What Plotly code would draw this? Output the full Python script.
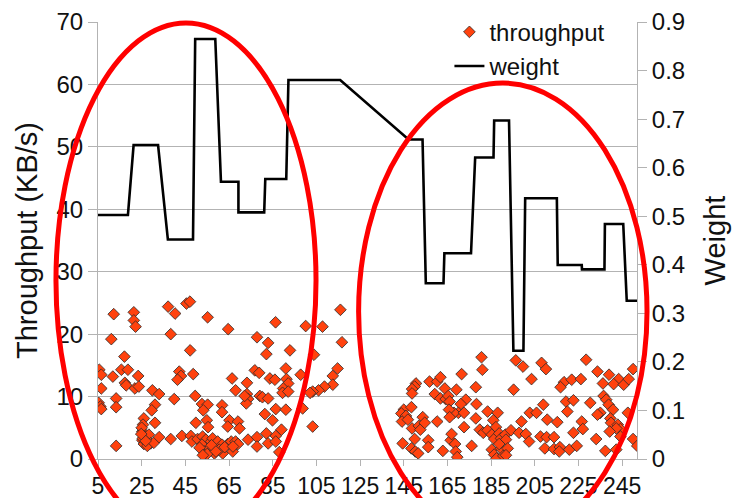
import plotly.graph_objects as go

# ---------------- data ----------------
thr_x = [
    12.2, 21.4, 21.4, 22.2, 37.1, 40.3, 45.5, 47.1, 55.2, 64.6, 11.1, 38.3, 47.2, 17.1, 5.6, 6.5, 11.8, 15.7, 18.7,
    23.4, 17.3, 17.9, 21.9, 23.7, 42.2, 43.0, 41.4, 48.6, 66.4, 6.5, 29.9, 33.0, 13.3, 39.9, 49.5, 5.3, 6.1, 6.5,
    13.3, 31.1, 29.6, 52.6, 55.2, 53.2, 61.8, 61.8, 26.0, 25.6, 31.1, 49.8, 54.8, 55.4, 65.2, 25.3, 26.5, 25.3,
    26.0, 28.3, 29.1, 27.6, 30.6, 33.0, 38.3, 43.4, 47.5, 48.0, 50.6, 52.9, 54.4, 52.6, 56.8, 57.5, 53.7, 58.3,
    56.0, 59.8, 61.8, 62.1, 64.4, 66.0, 66.7, 13.3, 64.4, 25.0, 25.5, 26.8, 24.8, 51.5, 55.0, 57.0, 60.5, 63.0,
    59.0, 53.0,
    86.3, 100.1, 107.8, 116.0, 77.8, 82.9, 92.9, 116.7, 82.1, 103.9, 91.0, 97.8, 114.7, 112.5, 112.5, 108.7,
    106.0, 103.3, 102.1, 76.8, 78.8, 73.2, 83.7, 86.0, 91.3, 92.1, 68.0, 89.8, 89.5, 92.1, 73.2, 73.7, 72.9,
    72.1, 79.1, 80.3, 82.9, 98.7, 86.4, 91.0, 81.4, 84.9, 69.1, 69.8, 103.3, 82.1, 86.4, 89.0, 73.7, 77.8, 68.0,
    69.1, 66.8, 82.9, 86.4, 77.8, 88.0,
    180.6, 181.0, 171.5, 150.6, 150.0, 148.8, 148.8, 156.8, 160.3, 161.8, 159.2, 163.8, 161.8, 164.2, 165.4,
    166.0, 169.1, 178.0, 195.3, 173.4, 171.1, 170.0, 168.0, 172.6, 165.7, 178.3, 145.0, 143.9, 148.5, 146.0,
    144.2, 146.9, 148.8, 151.9, 152.6, 153.7, 154.6, 160.3, 166.0, 178.0, 183.4, 188.0, 186.0, 187.2, 172.6,
    179.8, 181.4, 183.4, 185.3, 186.4, 188.7, 189.5, 191.5, 191.8, 194.1, 150.0, 148.5, 150.3, 151.6, 144.5,
    156.2, 156.2, 162.9, 166.5, 168.5, 168.8, 169.5, 166.9, 176.1, 185.3, 186.4, 187.5, 189.5, 190.6, 188.7,
    192.6, 191.8,
    228.5, 196.3, 199.6, 208.1, 210.1, 203.5, 233.7, 239.0, 236.2, 243.4, 241.1, 245.7, 248.0, 250.0, 218.4,
    216.8, 221.9, 226.1, 219.3, 222.7, 219.9, 230.4, 236.5, 237.7, 238.8, 240.8, 235.0, 233.7, 239.6, 208.9,
    202.7, 205.8, 198.9, 210.7, 215.3, 226.5, 227.0, 222.7, 239.9, 243.0, 244.2, 242.3, 239.3, 247.6, 197.8,
    200.9, 202.4, 207.6, 210.4, 213.8, 233.1, 244.2, 250.0, 251.9, 209.6, 213.8, 216.5, 216.2, 220.8, 224.2,
    237.3, 242.3,
]
thr_y = [
    23.2, 23.5, 22.2, 21.2, 24.4, 23.3, 24.9, 25.2, 22.7, 20.8, 19.2, 20.0, 17.4, 16.4, 14.3, 13.5, 13.2, 14.3, 14.3,
    13.3, 12.2, 11.8, 11.3, 11.6, 14.0, 13.3, 12.7, 13.6, 12.9, 11.3, 11.0, 10.4, 9.7, 9.6, 10.1, 9.0, 8.4, 8.0,
    8.3, 8.7, 7.8, 8.8, 8.7, 7.8, 8.6, 7.5, 6.5, 5.5, 5.8, 5.8, 6.2, 5.1, 6.2, 4.4, 3.6, 3.0,
    2.4, 3.9, 2.5, 2.1, 2.6, 3.5, 3.2, 3.7, 3.7, 2.8, 3.2, 3.6, 3.1, 2.3, 2.8, 3.3, 1.2, 0.9,
    1.7, 2.8, 2.3, 0.9, 2.4, 2.8, 1.2, 2.1, 5.2, 5.0, 3.3, 2.9, 4.0, 1.8, 0.8, 2.2, 1.5, 1.9,
    1.2, 0.6,
    21.9, 21.3, 21.2, 23.9, 19.5, 18.6, 17.4, 18.7, 16.8, 16.7, 14.5, 13.5, 14.5, 13.3, 11.9, 11.6,
    11.0, 10.8, 10.6, 14.2, 13.8, 12.2, 12.9, 12.7, 12.8, 12.1, 11.0, 11.3, 10.6, 10.8, 10.4, 9.6, 8.9,
    10.1, 10.1, 9.9, 9.7, 8.1, 8.0, 7.9, 7.2, 6.2, 6.0, 4.9, 5.2, 4.1, 3.7, 4.7, 3.1, 3.5, 2.8,
    2.4, 2.0, 2.5, 2.8, 2.0, 1.1,
    16.3, 14.3, 13.6, 12.1, 11.6, 11.2, 10.5, 12.4, 12.4, 13.1, 10.4, 11.3, 9.7, 9.6, 10.1,
    9.2, 11.1, 11.5, 11.1, 9.5, 8.8, 7.4, 7.4, 7.4, 7.9, 8.8, 7.9, 7.3, 8.3, 6.9,
    6.0, 6.3, 4.9, 5.3, 4.7, 6.7, 5.8, 6.0, 6.7, 6.5, 7.6, 7.4, 6.2, 5.1, 5.1,
    4.7, 4.2, 4.6, 3.9, 3.2, 4.1, 3.3, 3.9, 3.1, 4.6, 3.2, 1.7, 1.2, 0.9, 2.5,
    3.0, 1.9, 1.3, 3.0, 2.4, 1.2, 0.3, 4.0, 2.1, 1.5, 0.7, 0.1, 1.7, 0.5, 2.4,
    1.7, 0.6,
    15.9, 15.8, 14.8, 15.4, 14.4, 12.8, 14.0, 13.5, 12.1, 12.8, 12.0, 11.9, 12.8, 14.4, 12.3,
    11.5, 12.7, 12.8, 9.2, 9.4, 7.6, 9.0, 10.1, 9.5, 8.7, 7.9, 7.4, 7.1, 6.5, 8.7,
    7.4, 7.4, 6.0, 6.3, 5.9, 6.0, 4.8, 4.2, 5.8, 5.5, 4.8, 4.9, 4.4, 7.4, 4.2,
    4.0, 2.8, 3.6, 3.5, 3.5, 3.2, 3.6, 3.2, 2.1, 1.7, 1.6, 1.9, 1.2, 1.5, 2.1,
    1.3, 1.5,
]

weight_x = [5, 18.7, 21.3, 32.5, 37.0, 48.5, 49.5, 58.7, 61.3, 69.3, 69.3, 81.1, 81.6, 91.2, 92.2, 115.9,
            147.2, 153.6, 155.1, 163.2, 163.6, 175.8, 177.7, 186.1, 186.4, 193.2, 195.2, 199.8, 200.6, 215.1,
            215.5, 226.5, 226.6, 236.9, 237.1, 245.5, 247.1, 251.8]
weight_y = [0.5025, 0.5025, 0.6466, 0.6466, 0.452, 0.452, 0.865, 0.865, 0.571, 0.571, 0.508, 0.508, 0.5766,
            0.5766, 0.7805, 0.7805, 0.658, 0.658, 0.362, 0.362, 0.4236, 0.4236, 0.621, 0.621, 0.697, 0.697,
            0.223, 0.223, 0.537, 0.537, 0.3995, 0.3995, 0.3906, 0.3906, 0.484, 0.484, 0.326, 0.326]

x_ticks = [5, 25, 45, 65, 85, 105, 125, 145, 165, 185, 205, 225, 245]
y_ticks = [0, 10, 20, 30, 40, 50, 60, 70]
y2_ticks = [0, 0.1, 0.2, 0.3, 0.4, 0.5, 0.6, 0.7, 0.8, 0.9]
y2_ticktext = ["0", "0.1", "0.2", "0.3", "0.4", "0.5", "0.6", "0.7", "0.8", "0.9"]

# ---------------- figure ----------------
FONT = "Liberation Sans, Arial, sans-serif"
GRID = "#b3b3b3"
TXT = "#111111"

fig = go.Figure()
fig.add_trace(go.Scatter(
    x=thr_x, y=thr_y, mode="markers", name="throughput",
    marker=dict(symbol="diamond", size=9, color="#ff420e", line=dict(color="#2a2a2a", width=0.8)),
    yaxis="y",
))
fig.add_trace(go.Scatter(
    x=weight_x, y=weight_y, mode="lines", name="weight",
    line=dict(color="#000000", width=2.6),
    yaxis="y2",
))

fig.update_layout(
    width=738, height=498,
    margin=dict(l=98, r=101, t=22, b=39, autoexpand=False),
    paper_bgcolor="white", plot_bgcolor="white",
    font=dict(family=FONT, color=TXT),
    showlegend=True,
    legend=dict(x=0.652, y=1.028, xanchor="left", yanchor="top", bgcolor="rgba(0,0,0,0)",
                font=dict(size=24, family=FONT, color=TXT), traceorder="normal", tracegroupgap=0),
    xaxis=dict(range=[5, 251.8], tickvals=x_ticks, ticks="outside", ticklen=6, tickcolor=GRID,
               showgrid=False, showline=True, linecolor=GRID, linewidth=1, zeroline=False, automargin=False,
               tickfont=dict(size=23, family=FONT, color=TXT)),
    yaxis=dict(range=[0, 70], tickvals=y_ticks, ticks="outside", ticklen=9, tickcolor=GRID,
               showgrid=True, gridcolor=GRID, gridwidth=1, showline=True, linecolor=GRID,
               zeroline=False, automargin=False, tickfont=dict(size=24, family=FONT, color=TXT),
               title=dict(text="Throughput (KB/s)", font=dict(size=29, family=FONT, color=TXT), standoff=10)),
    yaxis2=dict(range=[0, 0.9], tickvals=y2_ticks, ticktext=y2_ticktext, overlaying="y", side="right",
                ticks="outside", ticklen=9, tickcolor=GRID, showgrid=False, showline=True, linecolor=GRID,
                zeroline=False, automargin=False, tickfont=dict(size=24, family=FONT, color=TXT),
                title=dict(text="Weight", font=dict(size=29, family=FONT, color=TXT), standoff=20)),
    shapes=[
        dict(type="circle", xref="paper", yref="paper", x0=-0.078, x1=0.4045, y0=-0.181, y1=0.9977,
             line=dict(color="#ff0000", width=5), layer="above"),
        dict(type="circle", xref="paper", yref="paper", x0=0.4835, x1=1.0186, y0=-0.185, y1=0.8604,
             line=dict(color="#ff0000", width=5), layer="above"),
    ],
)

fig.write_html("out.html")
